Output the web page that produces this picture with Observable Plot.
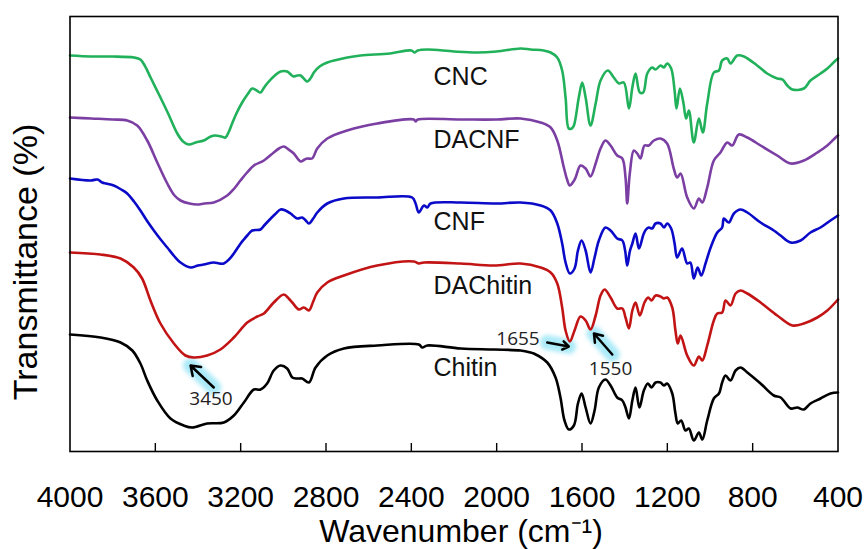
<!DOCTYPE html>
<html><head><meta charset="utf-8">
<script src="https://cdn.jsdelivr.net/npm/d3@7"></script>
<script src="https://cdn.jsdelivr.net/npm/@observablehq/plot@0.6"></script>
<style>body{margin:0;background:#fff}#chart svg{display:block}</style>
</head><body><div id="chart"></div>
<script>
// FTIR spectra: [wavenumber (cm-1), transmittance (arbitrary, offset units)]
const cnc = [[4000,396],[3900,395],[3800,395],[3700,394],[3670,392],[3650,386],[3620,373],[3576,354],[3540,338],[3497,318],[3470,310],[3443,307],[3410,309],[3373,311],[3340,315],[3320,316],[3290,315],[3271,314],[3255,320],[3240,328],[3220,338],[3193,349],[3165,358],[3146,363],[3125,361],[3107,359],[3090,364],[3076,368],[3040,376],[3013,380],[2982,380],[2960,376],[2951,375],[2935,376],[2919,376],[2900,372],[2888,370],[2870,374],[2857,379],[2830,385],[2794,389],[2700,394],[2638,396],[2500,398],[2400,401],[2385,399],[2370,401],[2325,402],[2200,400],[2091,399],[2000,400],[1888,403],[1841,402],[1780,401],[1747,399],[1716,394],[1693,381],[1677,354],[1662,323],[1648,323],[1638,326],[1615,354],[1599,369],[1583,354],[1560,326],[1536,348],[1513,371],[1479,381],[1451,374],[1427,368],[1404,369],[1380,343],[1364,364],[1349,378],[1329,359],[1313,359],[1294,378],[1271,384],[1255,382],[1232,386],[1216,384],[1201,388],[1182,383],[1166,361],[1157,343],[1141,363],[1125,349],[1112,333],[1099,341],[1076,309],[1052,333],[1034,319],[1013,348],[982,379],[958,381],[943,391],[919,393],[904,388],[872,396],[841,395],[779,386],[732,378],[685,373],[660,372],[638,366],[614,362],[560,363],[529,371],[482,378],[450,383],[411,391],[400,393]];
const dacnf = [[4000,334],[3900,333],[3800,332],[3732,331],[3685,326],[3638,311],[3591,289],[3544,268],[3510,256],[3482,251],[3440,248],[3404,247],[3370,248],[3326,249],[3263,256],[3230,263],[3201,271],[3170,279],[3138,286],[3091,291],[3045,299],[3020,303],[2998,305],[2975,302],[2951,298],[2919,290],[2900,292],[2888,293],[2865,293],[2841,303],[2794,313],[2701,321],[2560,328],[2388,332],[2380,330],[2370,332],[2169,332],[2000,332],[1888,333],[1794,329],[1747,324],[1716,311],[1685,284],[1670,272],[1657,266],[1640,270],[1630,274],[1607,286],[1583,283],[1560,275],[1536,288],[1513,303],[1490,311],[1466,306],[1435,296],[1411,293],[1396,274],[1388,248],[1376,278],[1357,301],[1341,298],[1326,293],[1307,306],[1287,306],[1263,311],[1232,313],[1201,308],[1170,283],[1154,274],[1138,278],[1107,254],[1076,243],[1052,253],[1036,249],[1013,264],[982,291],[951,299],[919,309],[896,306],[865,317],[825,314],[763,306],[685,296],[622,288],[560,291],[497,299],[450,306],[411,314],[400,316]];
const cnf = [[4000,273],[3904,271],[3870,272],[3849,269],[3830,268],[3795,266],[3760,262],[3732,258],[3700,250],[3670,241],[3640,231],[3607,221],[3575,212],[3544,204],[3510,195],[3482,189],[3435,184],[3400,186],[3373,187],[3326,189],[3300,188],[3279,188],[3255,192],[3232,198],[3200,208],[3185,212],[3169,216],[3146,221],[3107,222],[3090,226],[3068,231],[3040,237],[3013,242],[2990,241],[2966,238],[2935,233],[2912,234],[2895,231],[2880,228],[2860,233],[2841,239],[2794,248],[2716,253],[2560,254],[2396,254],[2380,248],[2365,239],[2341,246],[2325,244],[2310,248],[2169,249],[2000,248],[1888,249],[1794,246],[1747,241],[1716,228],[1693,208],[1677,189],[1657,178],[1635,183],[1619,201],[1602,211],[1583,201],[1560,179],[1541,194],[1521,211],[1490,224],[1466,221],[1435,213],[1411,211],[1398,201],[1388,186],[1376,200],[1364,208],[1349,218],[1333,203],[1312,217],[1300,222],[1287,224],[1271,223],[1255,228],[1232,228],[1216,224],[1201,228],[1182,223],[1166,208],[1154,194],[1131,203],[1107,188],[1092,189],[1076,173],[1058,184],[1041,176],[1021,188],[997,204],[966,219],[943,224],[935,233],[912,229],[888,238],[857,242],[825,239],[763,229],[701,221],[669,216],[622,209],[575,211],[529,219],[482,224],[435,231],[400,236]];
const dachitin = [[4000,199],[3857,197],[3763,193],[3701,184],[3662,173],[3623,151],[3576,128],[3513,108],[3459,96],[3420,94],[3357,96],[3295,102],[3232,114],[3169,129],[3122,135],[3091,138],[3045,149],[2998,157],[2975,153],[2958,149],[2927,142],[2904,144],[2880,141],[2860,150],[2841,159],[2794,169],[2716,176],[2560,186],[2388,190],[2365,188],[2341,189],[2169,188],[2013,186],[1888,188],[1794,184],[1747,179],[1716,168],[1693,144],[1677,121],[1657,110],[1635,121],[1607,135],[1583,131],[1560,122],[1536,136],[1513,156],[1494,162],[1466,154],[1435,143],[1411,143],[1396,134],[1380,123],[1364,141],[1349,149],[1329,136],[1307,149],[1290,154],[1274,151],[1255,156],[1232,155],[1216,153],[1201,154],[1177,144],[1162,121],[1151,108],[1138,116],[1107,96],[1076,86],[1052,95],[1036,91],[1013,106],[982,131],[966,138],[943,139],[927,151],[904,146],[880,158],[857,161],[825,158],[763,149],[685,136],[614,126],[560,128],[497,134],[450,141],[400,152]];
const chitin = [[4000,117],[3857,114],[3763,109],[3708,101],[3670,88],[3638,71],[3591,51],[3529,33],[3467,26],[3427,24],[3357,28],[3279,29],[3232,36],[3185,49],[3138,62],[3107,62],[3076,68],[3045,81],[3013,86],[2982,83],[2958,74],[2935,73],[2912,73],[2880,69],[2849,84],[2794,96],[2716,103],[2560,106],[2365,107],[2349,104],[2325,106],[2169,103],[2013,102],[1888,101],[1841,99],[1826,98],[1763,89],[1724,74],[1701,54],[1682,31],[1662,22],[1638,26],[1619,48],[1602,58],[1583,44],[1560,28],[1541,41],[1521,64],[1490,72],[1466,66],[1435,54],[1411,51],[1396,44],[1380,33],[1364,51],[1349,64],[1331,44],[1310,61],[1291,68],[1274,64],[1255,69],[1232,69],[1216,66],[1201,68],[1177,58],[1162,38],[1151,28],[1135,31],[1115,21],[1099,23],[1076,11],[1052,19],[1036,12],[1013,31],[982,53],[958,58],[943,69],[927,76],[904,71],[880,81],[857,84],[825,79],[763,68],[701,56],[669,54],[622,43],[591,44],[560,42],[529,48],[482,53],[435,58],[400,59]];

const seriesNames = ["CNC", "DACNF", "CNF", "DAChitin", "Chitin"];
const seriesData = [cnc, dacnf, cnf, dachitin, chitin];
const seriesLabelAt = [[2296,375],[2296,312],[2296,230],[2296,166],[2296,84]]; // [wavenumber, value]
const xTicks = [4000, 3600, 3200, 2800, 2400, 2000, 1600, 1200, 800, 400];

const peakLabels = ["3450", "1655", "1550"];
const peakLabelAt = [[3339,53],[1900,113],[1466,83]];
const peakArrows = [[3326,64,3435,86],[1763,109,1662,105],[1458,97,1544,118]]; // tail -> head

// styles
const colors = ["#22b15b", "#7b3fa3", "#0a0ac8", "#c21414", "#000000"];
const font = "'Liberation Sans', Arial, sans-serif";

const lineMarks = seriesData.map((d, i) => Plot.line(d, {
  x: p => p[0], y: p => p[1], stroke: colors[i], strokeWidth: 2.6, curve: "catmull-rom"
}));

const arrows = peakArrows.map((a, i) => ({x1: a[0], y1: a[1], x2: a[2], y2: a[3], label: peakLabels[i]}));
const peaks = peakLabelAt.map((p, i) => ({x: p[0], y: p[1], label: peakLabels[i]}));
const series = seriesLabelAt.map((p, i) => ({x: p[0], y: p[1], label: seriesNames[i]}));

const chart = Plot.plot({
  width: 865, height: 549,
  marginLeft: 69.5, marginRight: 27.5, marginTop: 16, marginBottom: 98,
  x: {domain: [4000, 400]},
  y: {domain: [0, 435], axis: null},
  style: {fontFamily: font, background: "white", color: "black"},
  marks: [
    Plot.link(arrows, {x1: "x1", y1: "y1", x2: "x2", y2: "y2", stroke: "#8fe3f5", strokeOpacity: 0.75, strokeWidth: 15, strokeLinecap: "round", imageFilter: "blur(2px)"}),
    ...lineMarks,
    Plot.arrow(arrows, {x1: "x1", y1: "y1", x2: "x2", y2: "y2", stroke: "black", strokeWidth: 2.5, headLength: 9, headAngle: 70}),
    Plot.text(peaks, {x: "x", y: "y", text: "label", fontSize: 19, fontFamily: "'Open Sans', sans-serif", fill: "#222"}),
    Plot.text(series, {x: "x", y: "y", text: "label", fontSize: 25, textAnchor: "start", fill: "#111"}),
    Plot.frame({stroke: "black", strokeWidth: 1.6}),
    Plot.axisX({ticks: xTicks.slice(1, -1), tickSize: 8, dy: -8, fill: "none", label: null, strokeWidth: 1.4}),
    Plot.axisX({ticks: xTicks, tickSize: 0, tickPadding: 34, fontSize: 30, label: null, tickFormat: d => String(d)}),
    Plot.text(["Wavenumber (cm⁻¹)"], {frameAnchor: "bottom", lineAnchor: "middle", textAnchor: "middle", dy: 80, dx: 7, fontSize: 32}),
    Plot.text(["Transmittance (%)"], {frameAnchor: "left", lineAnchor: "middle", textAnchor: "middle", dx: -44, dy: 28, rotate: -90, fontSize: 34})
  ]
});
document.getElementById("chart").appendChild(chart);
</script>
</body></html>
